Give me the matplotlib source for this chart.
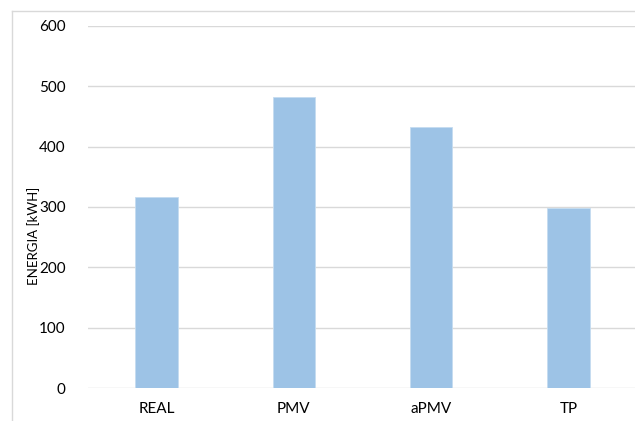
import numpy as np
import matplotlib.pyplot as plt
from matplotlib.lines import Line2D

# data
categories = ["REAL", "PMV", "aPMV", "TP"]
energy = [316, 482, 432, 298]
yticks = [0, 100, 200, 300, 400, 500, 600]

plt.rcParams['font.family'] = ['Lato', 'DejaVu Sans']

fig = plt.figure(figsize=(6.35, 4.21), dpi=100)
ax = fig.add_axes([88/635, 32.7/421, 549/635, 362.6/421])

x = np.arange(len(categories))
ax.bar(x, energy, width=0.31, color="#9dc3e6", edgecolor="#c5dcf0", linewidth=0.6, zorder=3)

ax.set_xlim(-0.5, len(categories) - 0.5)
ax.set_ylim(0, 600)
ax.set_yticks(yticks)
ax.set_xticks(x)
ax.set_xticklabels(categories)
ax.tick_params(length=0, labelsize=11, colors="#000000")
ax.tick_params(axis="y", pad=16)
ax.tick_params(axis="x", pad=10)
ax.grid(axis="y", color="#d9d9d9", linewidth=1, zorder=0)
for s in ax.spines.values():
    s.set_visible(False)
ax.set_ylabel("ENERGIA [kWH]", fontsize=9.5)
ax.yaxis.set_label_coords((40 - 88) / 549, 0.42)

# outer chart border (left and top visible)
fig.add_artist(Line2D([11.5/635, 11.5/635], [0, 1 - 11.3/421], color="#d9d9d9", linewidth=1))
fig.add_artist(Line2D([11.5/635, 1], [1 - 11.3/421, 1 - 11.3/421], color="#d9d9d9", linewidth=1))

plt.savefig("out.png", dpi=100)
